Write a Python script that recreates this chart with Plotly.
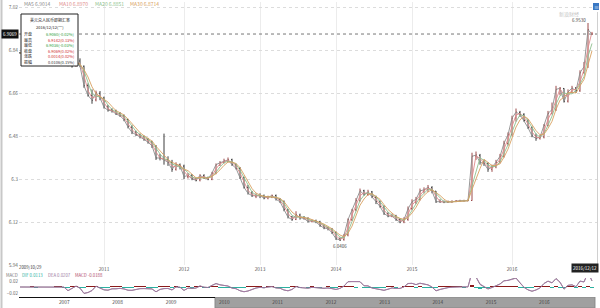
import pandas as pd
import plotly.graph_objects as go

# ---------------- data ----------------
dates = [d.strftime("%Y-%m-%d") for d in (
    list(pd.date_range("2009-10-29", periods=21, freq="21D"))
    + list(pd.date_range("2011-01-01", periods=20, freq="18D"))
    + list(pd.date_range("2012-01-01", periods=19, freq="19D"))
    + list(pd.date_range("2013-01-01", periods=19, freq="19D"))
    + list(pd.date_range("2014-01-01", periods=19, freq="19D"))
    + list(pd.date_range("2015-01-01", periods=25, freq="15D"))
    + list(pd.date_range("2016-01-01", "2016-12-12", periods=21)))]

closes = [
    # 2009-10 .. 2010
    6.8275, 6.8274, 6.8270, 6.8282, 6.8270, 6.8268, 6.8263, 6.8262, 6.8255, 6.8266, 6.8300,
    6.8268, 6.7760, 6.7740, 6.7950, 6.7730, 6.6900, 6.6500, 6.6300, 6.6600, 6.6400,
    # 2011
    6.6000, 6.5880, 6.5850, 6.5720, 6.5650, 6.5480, 6.5180, 6.4950, 6.4860, 6.4770,
    6.4660, 6.4540, 6.4390, 6.3880, 6.3880, 6.3800, 6.3700, 6.3400, 6.3600, 6.3550,
    # 2012
    6.3100, 6.3150, 6.3000, 6.2950, 6.3150, 6.3050, 6.3000, 6.3250, 6.3600, 6.3680,
    6.3750, 6.3800, 6.3600, 6.3450, 6.3050, 6.2650, 6.2400, 6.2300, 6.2300,
    # 2013
    6.2300, 6.2200, 6.2250, 6.2300, 6.2150, 6.2050, 6.1720, 6.1400, 6.1300, 6.1500,
    6.1380, 6.1350, 6.1220, 6.1250, 6.1200, 6.1050, 6.0950, 6.0920, 6.0750,
    # 2014
    6.0500, 6.0450, 6.0650, 6.1300, 6.1700, 6.2100, 6.2500, 6.2350, 6.2450, 6.2250,
    6.2050, 6.1850, 6.1550, 6.1450, 6.1450, 6.1300, 6.1200, 6.1300, 6.1750,
    # 2015
    6.2050, 6.2150, 6.2500, 6.2550, 6.2650, 6.2500, 6.2050, 6.2050, 6.2030, 6.2040,
    6.2050, 6.2080, 6.2090, 6.2090, 6.2100, 6.3950, 6.4000, 6.3700, 6.3650, 6.3400,
    6.3500, 6.3700, 6.3950, 6.4500, 6.4850,
    # 2016
    6.5550, 6.5800, 6.5700, 6.5450, 6.5150, 6.4800, 6.4700, 6.4750, 6.5250, 6.5750,
    6.5900, 6.6750, 6.6800, 6.6250, 6.6650, 6.6800, 6.6700, 6.7450, 6.7700, 6.9250, 6.9069,
]
opens = [
    6.8280, 6.8276, 6.8273, 6.8271, 6.8281, 6.8271, 6.8267, 6.8264, 6.8261, 6.8256, 6.8268,
    6.8298, 6.8260, 6.7770, 6.7745, 6.7940, 6.7720, 6.6910, 6.6490, 6.6310, 6.6590,
    6.6390, 6.6010, 6.5890, 6.5840, 6.5730, 6.5640, 6.5490, 6.5170, 6.4960, 6.4850,
    6.4780, 6.4650, 6.4550, 6.4380, 6.3890, 6.3870, 6.3810, 6.3690, 6.3410, 6.3590,
    6.3540, 6.3090, 6.3160, 6.2990, 6.2960, 6.3140, 6.3060, 6.2990, 6.3260, 6.3590,
    6.3690, 6.3740, 6.3810, 6.3590, 6.3440, 6.3060, 6.2640, 6.2410, 6.2290,
    6.2310, 6.2290, 6.2210, 6.2240, 6.2310, 6.2140, 6.2060, 6.1710, 6.1410, 6.1310,
    6.1490, 6.1390, 6.1340, 6.1230, 6.1240, 6.1210, 6.1040, 6.0960, 6.0910,
    6.0760, 6.0510, 6.0460, 6.0660, 6.1290, 6.1710, 6.2090, 6.2510, 6.2340, 6.2460,
    6.2240, 6.2060, 6.1840, 6.1560, 6.1440, 6.1460, 6.1290, 6.1210, 6.1310,
    6.1760, 6.2040, 6.2160, 6.2490, 6.2560, 6.2640, 6.2490, 6.2060, 6.2040, 6.2030,
    6.2040, 6.2060, 6.2080, 6.2090, 6.2090, 6.2100, 6.3960, 6.3990, 6.3710, 6.3640,
    6.3410, 6.3510, 6.3710, 6.3960, 6.4490,
    6.4860, 6.5560, 6.5790, 6.5710, 6.5440, 6.5160, 6.4790, 6.4710, 6.4760, 6.5240,
    6.5760, 6.5890, 6.6760, 6.6790, 6.6260, 6.6640, 6.6810, 6.6690, 6.7460, 6.7690, 6.9060,
]
highs = [
    6.8290, 6.8285, 6.8285, 6.8290, 6.8290, 6.8280, 6.8275, 6.8275, 6.8270, 6.8280, 6.8320,
    6.8310, 6.8280, 6.7950, 6.8000, 6.8050, 6.7750, 6.7000, 6.6750, 6.6700, 6.6680,
    6.6450, 6.6100, 6.5960, 6.5900, 6.5800, 6.5700, 6.5520, 6.5250, 6.5020, 6.4900,
    6.4820, 6.4720, 6.4600, 6.4420, 6.4050, 6.4900, 6.3950, 6.3800, 6.3700, 6.3650,
    6.3600, 6.3250, 6.3200, 6.3050, 6.3200, 6.3200, 6.3100, 6.3300, 6.3650, 6.3750,
    6.3850, 6.3900, 6.3850, 6.3650, 6.3500, 6.3100, 6.2750, 6.2500, 6.2400,
    6.2400, 6.2350, 6.2300, 6.2350, 6.2350, 6.2200, 6.2100, 6.1750, 6.1450, 6.1650,
    6.1550, 6.1450, 6.1400, 6.1300, 6.1300, 6.1250, 6.1100, 6.1000, 6.0950,
    6.0800, 6.0550, 6.0700, 6.1350, 6.1750, 6.2200, 6.2600, 6.2550, 6.2550, 6.2500,
    6.2300, 6.2100, 6.1900, 6.1600, 6.1550, 6.1500, 6.1350, 6.1400, 6.1850,
    6.2150, 6.2250, 6.2600, 6.2650, 6.2750, 6.2700, 6.2500, 6.2150, 6.2100, 6.2100,
    6.2110, 6.2120, 6.2130, 6.2130, 6.2140, 6.4100, 6.4150, 6.4050, 6.3800, 6.3700,
    6.3600, 6.3800, 6.4050, 6.4600, 6.4950,
    6.5650, 6.5950, 6.5850, 6.5750, 6.5500, 6.5200, 6.4900, 6.4850, 6.5300, 6.5850,
    6.6200, 6.6900, 6.6850, 6.6800, 6.6750, 6.6900, 6.6850, 6.7550, 6.7900, 6.9530, 6.9142,
]
lows = [
    6.8260, 6.8262, 6.8260, 6.8265, 6.8260, 6.8255, 6.8255, 6.8250, 6.8245, 6.8250, 6.8260,
    6.8250, 6.7720, 6.7660, 6.7700, 6.7680, 6.6820, 6.6450, 6.6150, 6.6250, 6.6300,
    6.5950, 6.5820, 6.5780, 6.5680, 6.5600, 6.5420, 6.5120, 6.4880, 6.4800, 6.4700,
    6.4600, 6.4480, 6.4300, 6.3800, 6.3780, 6.3600, 6.3550, 6.3300, 6.3350, 6.3400,
    6.3000, 6.3020, 6.2950, 6.2900, 6.2900, 6.3000, 6.2950, 6.2950, 6.3200, 6.3550,
    6.3650, 6.3700, 6.3550, 6.3400, 6.3000, 6.2600, 6.2350, 6.2250, 6.2200,
    6.2200, 6.2150, 6.2150, 6.2200, 6.2100, 6.2000, 6.1650, 6.1350, 6.1250, 6.1280,
    6.1300, 6.1300, 6.1180, 6.1180, 6.1150, 6.1000, 6.0900, 6.0850, 6.0700,
    6.0450, 6.0406, 6.0420, 6.0600, 6.1250, 6.1650, 6.2050, 6.2300, 6.2300, 6.2200,
    6.1950, 6.1800, 6.1500, 6.1400, 6.1400, 6.1250, 6.1150, 6.1150, 6.1250,
    6.1700, 6.1950, 6.2100, 6.2400, 6.2450, 6.2400, 6.2000, 6.2000, 6.1990, 6.2000,
    6.2010, 6.2030, 6.2050, 6.2060, 6.2070, 6.2090, 6.3800, 6.3600, 6.3550, 6.3300,
    6.3300, 6.3450, 6.3650, 6.3900, 6.4400,
    6.4800, 6.5400, 6.5600, 6.5400, 6.5100, 6.4750, 6.4600, 6.4650, 6.4700, 6.5200,
    6.5700, 6.5850, 6.6500, 6.6200, 6.6200, 6.6600, 6.6600, 6.6650, 6.7400, 6.7650, 6.9036,
]

year_labels = ["2011", "2012", "2013", "2014", "2015", "2016"]
nav_years = ["2007", "2008", "2009", "2010", "2011", "2012", "2013", "2014", "2015", "2016"]
price_ticks = [5.94, 6.12, 6.3, 6.48, 6.66, 6.84, 7.02]
price_tick_text = ["5.94", "6.12", "6.3", "6.48", "6.66", "6.84", "7.02"]
ma_names = ["MA5", "MA10", "MA20", "MA30"]
ma_windows = [1, 2, 3, 4]          # candle windows (each candle ~ 12 trading days)
ma_legend_values = ["6.9014", "6.8970", "6.8851", "6.8714"]
ma_colors = ["#8c8c8c", "#e08a8a", "#8fbf8f", "#d8a060"]
macd_legend = [("DIF", 0.0113), ("DEA", 0.0207), ("MACD", -0.0188)]

tip_title = "美元兑人民币即期汇率"
tip_date = "2016/12/12(一)"
tip_labels = ["开盘", "最高", "最低", "收盘", "涨跌", "振幅"]
tip_values = ["6.9060(-0.02%)", "6.9142(0.13%)", "6.9036(-0.03%)",
              "6.9069(0.02%)", "0.0014(0.02%)", "0.0106(0.15%)"]
tip_colors = ["#2e9e3e", "#d03030", "#2e9e3e", "#d03030", "#d03030", "#333333"]

# ---------------- derived indicators ----------------
c = pd.Series(closes)
t = pd.to_datetime(pd.Series(dates))
mas = [c.rolling(w, min_periods=1).mean() for w in ma_windows]
ema_fast = c.ewm(halflife=pd.Timedelta(days=6), times=t).mean()
ema_slow = c.ewm(halflife=pd.Timedelta(days=13), times=t).mean()
dif = ema_fast - ema_slow
dea = dif.ewm(halflife=pd.Timedelta(days=4), times=t).mean()
hist = 2 * (dif - dea)

W, H = 600, 308
FONT = "Noto Sans CJK SC"


def px(x):
    return x / W


def py(y):
    return 1 - y / H


fig = go.Figure()

fig.add_trace(go.Ohlc(
    x=dates, open=opens, high=highs, low=lows, close=closes,
    increasing=dict(line=dict(color="#9c4a4a", width=1)),
    decreasing=dict(line=dict(color="#3c3c3c", width=1)),
    tickwidth=0.25, xaxis="x", yaxis="y", showlegend=False, hoverinfo="skip"))

for name, m, col in zip(ma_names, mas, ma_colors):
    fig.add_trace(go.Scatter(x=dates, y=m, mode="lines", line=dict(color=col, width=0.9),
                             xaxis="x", yaxis="y", showlegend=False, hoverinfo="skip", name=name))

fig.add_trace(go.Bar(x=dates, y=hist,
                     marker=dict(color=["#8b1a1a" if v > 0 else "#2bb0a0" for v in hist], line=dict(width=0)),
                     xaxis="x2", yaxis="y2", showlegend=False, hoverinfo="skip"))
fig.add_trace(go.Scatter(x=dates, y=dif, mode="lines", line=dict(color="#555555", width=0.8),
                         xaxis="x2", yaxis="y2", showlegend=False, hoverinfo="skip"))
fig.add_trace(go.Scatter(x=dates, y=dea, mode="lines", line=dict(color="#b07ab0", width=0.8),
                         xaxis="x2", yaxis="y2", showlegend=False, hoverinfo="skip"))

first_of_year = [next(d for d in dates if d.startswith(y)) for y in year_labels]
n = len(dates)
xdom = [px(19), px(597)]
xr = [-0.25, n - 1 + 1.25]
ytop = 7.02 + 5 * 0.18 / 43
ybot = 7.02 - 258 * 0.18 / 43

fig.update_layout(
    width=W, height=H, margin=dict(l=0, r=0, t=0, b=0),
    paper_bgcolor="white", plot_bgcolor="white",
    font=dict(family=FONT, size=5, color="#555"),
    bargap=0,
    xaxis=dict(domain=xdom, anchor="y", type="category", range=xr,
               categoryorder="array", categoryarray=dates,
               tickmode="array", tickvals=first_of_year, ticktext=year_labels,
               showgrid=True, gridcolor="#ececec", gridwidth=1, ticks="",
               tickfont=dict(size=4.8, color="#555"), zeroline=False, showline=False,
               rangeslider=dict(visible=False), automargin=False),
    yaxis=dict(domain=[py(265), py(2)], anchor="x", range=[ybot, ytop],
               tickmode="array", tickvals=price_ticks, ticktext=price_tick_text,
               showgrid=True, gridcolor="#dcdcdc", griddash="dot", ticks="",
               tickfont=dict(size=4.8, color="#666"), zeroline=False, automargin=False),
    xaxis2=dict(domain=xdom, anchor="y2", type="category", range=xr,
                categoryorder="array", categoryarray=dates,
                showticklabels=False, showgrid=False, zeroline=False, automargin=False),
    yaxis2=dict(domain=[py(296), py(278)], anchor="x2", range=[-0.03, 0.03],
                tickmode="array", tickvals=[-0.02, 0.02], showgrid=False, zeroline=False,
                ticks="", tickfont=dict(size=4.5, color="#666"), automargin=False),
    xaxis3=dict(domain=xdom, anchor="y3", type="date", range=["2006-02-25", "2016-12-26"],
                tickmode="array", tickvals=[f"{y}-01-01" for y in nav_years], ticktext=nav_years,
                ticklabelposition="inside", ticks="", showgrid=False, zeroline=False,
                tickfont=dict(size=4.8, color="#444"), automargin=False),
    yaxis3=dict(domain=[0, py(297)], anchor="x3", range=[0, 1], visible=False),
)

shapes = []
# outer borders
shapes.append(dict(type="line", xref="paper", yref="paper", x0=px(1.5), x1=px(1.5), y0=0, y1=1,
                   line=dict(color="#c8c8c8", width=2)))
shapes.append(dict(type="line", xref="paper", yref="paper", x0=px(597.5), x1=px(597.5), y0=py(265), y1=py(12),
                   line=dict(color="#d0d0d0", width=1)))
# last price dotted line
shapes.append(dict(type="line", xref="paper", yref="y", x0=xdom[0], x1=xdom[1], y0=closes[-1], y1=closes[-1],
                   line=dict(color="#777", width=1, dash="dot")))
# navigator
shapes.append(dict(type="rect", xref="x3", yref="y3", x0=dates[0], x1=dates[-1], y0=0, y1=1,
                   fillcolor="#a0a0a0", line=dict(color="#888", width=1), layer="below"))
shapes.append(dict(type="line", xref="x3", yref="y3", x0="2006-02-25", x1=dates[0], y0=1, y1=1,
                   line=dict(color="#111", width=2)))
# tooltip box
shapes.append(dict(type="rect", xref="paper", yref="paper", x0=px(21), x1=px(78), y0=py(66), y1=py(14),
                   fillcolor="white", line=dict(color="#222", width=1)))
# top-right button
shapes.append(dict(type="rect", xref="paper", yref="paper", x0=px(593), x1=px(599), y0=py(10), y1=py(3),
                   fillcolor="#3a78c3", line=dict(width=0)))
fig.update_layout(shapes=shapes)

ann = []


def text(x, y, s, size=5.0, color="#555", xanchor="left", bg=None, yref="paper", xref="paper"):
    d = dict(x=x, y=y, xref=xref, yref=yref, text=s, showarrow=False, xanchor=xanchor, yanchor="middle",
             font=dict(size=size, color=color, family=FONT))
    if bg:
        d.update(bgcolor=bg, borderpad=1)
    ann.append(d)


# MA legend
for xpos, name, val, col in zip([22, 57, 93, 128], ma_names, ma_legend_values, ma_colors):
    text(px(xpos), py(3.5), f"{name} {val}", 5, col)
# tooltip content
text(px(49.5), py(19.5), tip_title, 4, "#222", "center")
text(px(49.5), py(27), tip_date, 4, "#222", "center")
for i, (lab, val, col) in enumerate(zip(tip_labels, tip_values, tip_colors)):
    yy = 34 + i * 5.6
    text(px(22), py(yy), lab, 4, "#222", "left")
    text(px(76), py(yy), val, 4, col, "right")
# crosshair / last price label
text(px(9.5), closes[-1], f"{closes[-1]:.4f}", 4.5, "white", "center", bg="#111", yref="y")
# extreme labels
imin = lows.index(min(lows))
imax = highs.index(max(highs))
text(dates[imin], min(lows), f"{min(lows):.4f}", 4.5, "#444", "center", xref="x", yref="y")
ann[-1]["yshift"] = -5
text(dates[imax], max(highs), f"{max(highs):.4f}", 4.5, "#444", "right", xref="x", yref="y")
ann[-1]["yshift"] = 3
# date labels at both ends
text(px(30), py(267), "2009/10/29", 4.3, "#333", "center")
text(px(585), py(268), "2016/12/12", 4.5, "white", "center", bg="#222")
# MACD legend
text(px(4), py(274.5), "MACD", 4.3, "#777")
for xpos, (nm, val), col in zip([20, 46, 73], macd_legend, ["#2bb0a0", "#9a7aa0", "#b04a6a"]):
    text(px(xpos), py(274.5), f"{nm} {val:.4f}", 4.3, col)
# watermark
text(px(569), py(14), "新浪财经", 5, "#c4c4c4", "center")
text(px(596), py(6.5), "≡", 5, "white", "center")
fig.update_layout(annotations=ann)

fig.write_html("out.html")
